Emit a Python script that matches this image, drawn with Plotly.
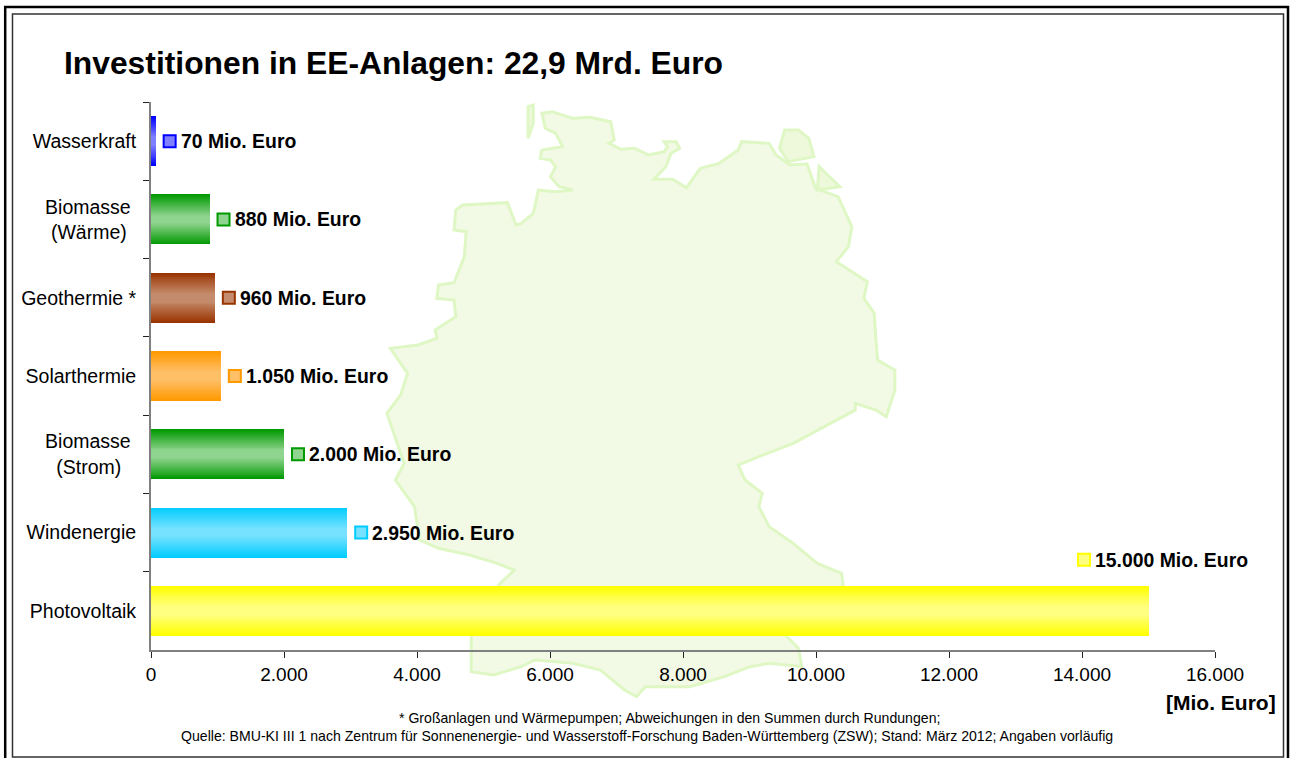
import plotly.graph_objects as go

W, H = 1293, 758
categories = ["Wasserkraft", "Biomasse\u00a0<br>(Wärme)\u00a0\u2009", "Geothermie *", "Solarthermie",
              "Biomasse\u00a0<br>(Strom)\u00a0\u00a0\u2009", "Windenergie", "Photovoltaik"]
values = [70, 880, 960, 1050, 2000, 2950, 15000]
value_labels = ["70 Mio. Euro", "880 Mio. Euro", "960 Mio. Euro", "1.050 Mio. Euro",
                "2.000 Mio. Euro", "2.950 Mio. Euro", "15.000 Mio. Euro"]
edge_colors = ["#0000ff", "#009900", "#993300", "#ff9900", "#009900", "#00ccff", "#ffff00"]
mid_colors = ["#8080ff", "#8fd48f", "#c48c6c", "#ffbf66", "#8fd48f", "#77e2ff", "#ffff80"]
x_ticks = [0, 2000, 4000, 6000, 8000, 10000, 12000, 14000, 16000]
x_tick_labels = ["0", "2.000", "4.000", "6.000", "8.000", "10.000", "12.000", "14.000", "16.000"]

title_text = "Investitionen in EE-Anlagen: 22,9 Mrd. Euro"
unit_text = "[Mio. Euro]"
foot_1 = "* Großanlagen und Wärmepumpen; Abweichungen in den Summen durch Rundungen;"
foot_2 = "Quelle: BMU-KI III 1 nach Zentrum für Sonnenenergie- und Wasserstoff-Forschung Baden-Württemberg (ZSW); Stand: März 2012; Angaben vorläufig"

PLOT_L, PLOT_R, PLOT_T, PLOT_B = 151, 1215, 102, 650
PX_PER_UNIT = (PLOT_R - PLOT_L) / 16000
PX_PER_CAT = (PLOT_B - PLOT_T) / 7
BAND_STEPS = 26
BAR_WIDTH = 0.64

# background map outline, decoration, on the grid of the zoomed crops
MAP_MAIN = [(470,70),(500,65),(560,85),(610,82),(670,95),(680,150),(665,160),(700,178),(740,175),(780,195),(825,185),(835,170),(825,155),(860,155),(870,175),(845,190),(830,230),(795,268),(850,268),(890,293),(930,235),(985,220),(1040,180),(1050,155),(1130,160),(1150,195),(1190,225),(1240,222),(1265,295),(1330,320),(1370,410),(1360,470),(1325,515),(1415,575),(1405,625),(1435,670),(1440,750),(1445,810),(1495,840),(1495,900),(1470,980),(1440,960),(1380,940),(1380,960),(1290,1010),(1200,1060),(1100,1100),(1040,1125),(1060,1170),(1110,1210),(1100,1250),(1130,1310),(1200,1360),(1270,1420),(1340,1450),(1345,1485),(1280,1560),(1180,1638),(1215,1675),(1225,1730),(1130,1720),(1075,1730),(1000,1760),(900,1790),(840,1790),(770,1790),(745,1820),(710,1800),(640,1740),(560,1720),(450,1710),(410,1730),(330,1755),(265,1745),(265,1638),(300,1560),(345,1485),(390,1440),(340,1420),(260,1395),(170,1375),(115,1350),(100,1250),(45,1170),(70,1120),(20,970),(60,915),(80,850),(30,775),(110,765),(165,745),(160,720),(220,680),(215,630),(165,625),(170,585),(215,578),(245,500),(250,425),(215,420),(220,360),(240,345),(370,338),(395,405),(410,400),(445,370),(460,300),(510,305),(560,300),(520,290),(495,260),(510,230),(495,210),(465,205),(470,180),(530,170),(510,130),(480,115)]
MAP_ISLANDS = [
    [(430,50),(445,45),(445,100),(430,145)],
    [(1175,120),(1215,120),(1245,145),(1260,200),(1185,215),(1160,175)],
    [(1275,230),(1335,290),(1270,300)],
]

def map_path(pts):
    pp = [(380 + x * 0.3444, 90 + y / 3) for x, y in pts]
    return "M " + " L ".join(f"{x / W:.5f},{1 - y / H:.5f}" for x, y in pp) + " Z"

def mix(a, b, t):
    ca = [int(a[i:i + 2], 16) for i in (1, 3, 5)]
    cb = [int(b[i:i + 2], 16) for i in (1, 3, 5)]
    return "rgb(%d,%d,%d)" % tuple(round(p + (q - p) * t) for p, q in zip(ca, cb))

fig = go.Figure()

# bars: nested overlays give the vertical gradient
for step in range(BAND_STEPS):
    t = step / (BAND_STEPS - 1)
    fig.add_trace(go.Bar(
        y=categories, x=values, orientation="h",
        width=BAR_WIDTH * (1 - t * 0.96),
        marker=dict(color=[mix(e, m, min(1, t * 1.15)) for e, m in zip(edge_colors, mid_colors)], line_width=0),
        hoverinfo="skip", showlegend=False,
    ))

# value keys and labels
key_x, key_y = [], []
big_value = max(values)
for i, v in enumerate(values):
    big = v == big_value
    key_x.append((1084 - PLOT_L) / PX_PER_UNIT if big else v + 14 / PX_PER_UNIT)
    key_y.append(i - 51 / PX_PER_CAT if big else i)
fig.add_trace(go.Scatter(
    x=key_x, y=key_y, mode="markers", showlegend=False, hoverinfo="skip", yaxis="y2",
    marker=dict(symbol="square", size=12, color=mid_colors, line=dict(color=edge_colors, width=2)),
))
annotations = []
for kx, ky, lab in zip(key_x, key_y, value_labels):
    annotations.append(dict(x=kx, y=ky, xref="x", yref="y2", text=f"<b>{lab}</b>", showarrow=False,
                            xanchor="left", xshift=9, font=dict(size=19.4, color="#000000")))

annotations += [
    dict(x=61.5 / W, y=1 - 63 / H, xref="paper", yref="paper", text=f"<b>{title_text}</b>", showarrow=False,
         xanchor="left", yanchor="middle", font=dict(size=31.8, color="#000000")),
    dict(x=1278 / W, y=1 - 702 / H, xref="paper", yref="paper", text=f"<b>{unit_text}</b>", showarrow=False,
         xanchor="right", yanchor="middle", font=dict(size=21, color="#000000")),
    dict(x=669.5 / W, y=1 - 718 / H, xref="paper", yref="paper", text=foot_1, showarrow=False,
         xanchor="center", yanchor="middle", font=dict(size=14.1, color="#000000")),
    dict(x=646.5 / W, y=1 - 736 / H, xref="paper", yref="paper", text=foot_2, showarrow=False,
         xanchor="center", yanchor="middle", font=dict(size=14.1, color="#000000")),
]

shapes = [dict(type="path", path=map_path(MAP_MAIN), xref="paper", yref="paper", layer="below",
               fillcolor="#f2f9e4", line=dict(color="#dff7c4", width=3))]
shapes += [dict(type="path", path=map_path(p), xref="paper", yref="paper", layer="below",
                fillcolor="#eef9dc", line=dict(color="#dff7c4", width=3)) for p in MAP_ISLANDS]
shapes += [
    dict(type="rect", xref="paper", yref="paper", x0=5.2 / W, x1=1288 / W, y0=1 - 765 / H, y1=1 - 7 / H,
         line=dict(color="#000000", width=2.5), layer="above"),
    dict(type="rect", xref="paper", yref="paper", x0=12.5 / W, x1=1283.5 / W, y0=1 - 757 / H, y1=1 - 14 / H,
         line=dict(color="#333333", width=1.5), layer="above"),
]

fig.update_layout(
    width=W, height=H, margin=dict(l=0, r=0, t=0, b=0),
    paper_bgcolor="#ffffff", plot_bgcolor="rgba(0,0,0,0)",
    barmode="overlay", bargap=0, showlegend=False,
    font=dict(family="Liberation Sans, Arial, sans-serif", size=19, color="#000000"),
    xaxis=dict(domain=[PLOT_L / W, PLOT_R / W], range=[0, 16000], tickvals=x_ticks, ticktext=x_tick_labels,
               ticks="outside", ticklen=6, tickwidth=1, tickcolor="#222222", automargin=False,
               showline=True, linecolor="#808080", linewidth=2, showgrid=False, zeroline=False,
               tickfont=dict(size=19), anchor="y"),
    yaxis=dict(domain=[1 - PLOT_B / H, 1 - PLOT_T / H], type="category", categoryorder="array",
               categoryarray=categories, range=[6.5, -0.5], tickson="boundaries",
               ticks="outside", ticklen=6, tickwidth=1, tickcolor="#222222", automargin=False,
               showline=True, linecolor="#808080", linewidth=2, showgrid=False, zeroline=False,
               tickfont=dict(size=19.5), ticklabelstandoff=9, anchor="x"),
    yaxis2=dict(domain=[1 - PLOT_B / H, 1 - PLOT_T / H], overlaying="y", range=[6.5, -0.5], visible=False,
                anchor="x", automargin=False),
    annotations=annotations, shapes=shapes,
)

fig.write_html("out.html", config={"displayModeBar": False},
               post_script="document.body.style.margin='0';document.body.style.overflow='hidden';")
